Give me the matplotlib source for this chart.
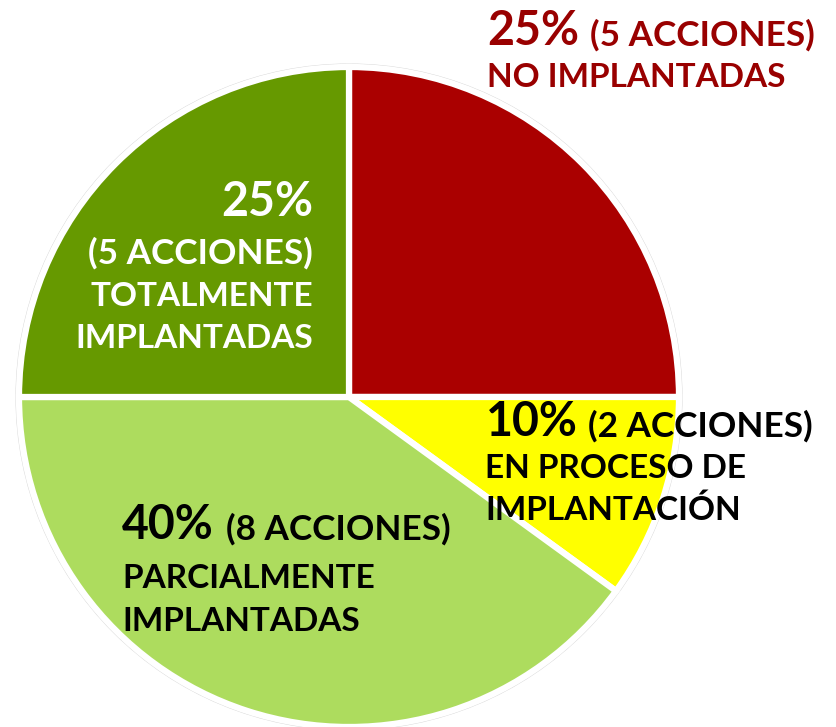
import matplotlib
matplotlib.use("Agg")
import matplotlib.pyplot as plt
from matplotlib.patches import Circle

# Data
categories = ["No implantadas", "En proceso de implantación",
              "Parcialmente implantadas", "Totalmente implantadas"]
percentages = [25, 10, 40, 25]
acciones = [5, 2, 8, 5]
colors = ["#AA0000", "#FFFF00", "#ADDC5E", "#669900"]

W, H = 836, 727
fig = plt.figure(figsize=(W / 100, H / 100), dpi=100)
ax = fig.add_axes([0, 0, 1, 1])
ax.set_xlim(0, W)
ax.set_ylim(0, H)
ax.set_aspect("equal")
ax.axis("off")

cx, cy, R = 349, H - 397, 330

# soft outer ring
ax.add_patch(Circle((cx, cy), R + 3, facecolor="#f4f4f4", edgecolor="#d9d9d9",
                    linewidth=0.8, zorder=0))

ax.pie(percentages, colors=colors, startangle=90, counterclock=False,
       center=(cx, cy), radius=R, frame=True,
       wedgeprops=dict(edgecolor="white", linewidth=4.5))
ax.set_xlim(0, W)
ax.set_ylim(0, H)
ax.axis("off")

FONT = ["Lato", "DejaVu Sans"]
BIG = 33.5
SMALL = 24
ACC = 25.3


def t(x, y, s, size, color, ha="left"):
    ax.text(x, H - y, s, fontsize=size, color=color, ha=ha, va="baseline",
            fontweight="bold", family=FONT)


def lbl(i):
    return f"{percentages[i]}%", f"({acciones[i]} ACCIONES)"


# No implantadas (top right)
p, a = lbl(0)
red_txt = "#990000"
t(487, 45, p, BIG, red_txt)
t(590, 46, a, ACC, red_txt)
t(487, 87, "NO IMPLANTADAS", SMALL, red_txt)

# Totalmente implantadas (dark green, white text, right aligned)
p, a = lbl(3)
t(313, 216, p, BIG, "white", ha="right")
t(313, 264, a, ACC, "white", ha="right")
t(313, 306, "TOTALMENTE", SMALL, "white", ha="right")
t(313, 348, "IMPLANTADAS", SMALL, "white", ha="right")

# En proceso
p, a = lbl(1)
t(486, 436, p, BIG, "black")
t(588, 437, a, ACC, "black")
t(485, 478, "EN PROCESO DE", SMALL, "black")
t(485, 520, "IMPLANTACIÓN", SMALL, "black")

# Parcialmente
p, a = lbl(2)
t(122, 539, p, BIG, "black")
t(226, 540, a, ACC, "black")
t(122, 588, "PARCIALMENTE", SMALL, "black")
t(122, 631, "IMPLANTADAS", SMALL, "black")

fig.savefig("out.png", dpi=100)
